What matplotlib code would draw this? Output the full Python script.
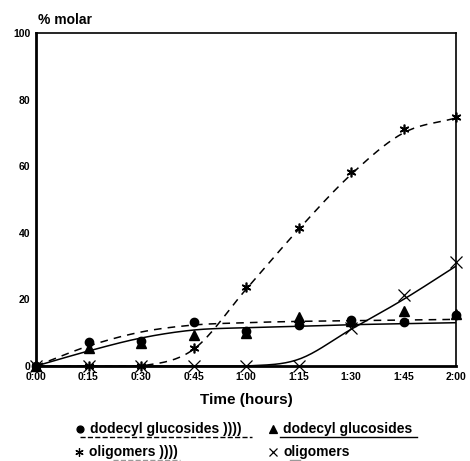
import numpy as np
import matplotlib.pyplot as plt
from matplotlib.lines import Line2D

plt.rcParams['font.family'] = ['Liberation Sans', 'DejaVu Sans']
plt.rcParams['font.weight'] = 'bold'

# time in minutes
t = [0, 15, 30, 45, 60, 75, 90, 105, 120]
tick_labels = ['0:00', '0:15', '0:30', '0:45', '1:00', '1:15', '1:30', '1:45', '2:00']

# measured points
dg_us = [0, 7.3, 7.6, 13.3, 10.6, 12.3, 13.8, 13.2, 15.2]       # dodecyl glucosides ))))
dg = [0, 5.4, 6.9, 9.3, 9.9, 14.8, 13.4, 16.6, 15.6]             # dodecyl glucosides
olig_us = [0, 0, 0, 5.4, 23.7, 41.5, 58.2, 71.2, 74.9]           # oligomers ))))
olig = [0, 0, 0, 0, 0, 0, 11.4, 21.3, 31.3]                      # oligomers

# trend curves
fit_dg_us = [0, 6.0, 10.2, 12.3, 13.0, 13.4, 13.6, 13.8, 14.0]
fit_dg = [0, 4.5, 8.4, 10.8, 11.5, 11.9, 12.4, 12.7, 13.0]
fit_olig_us = [0, 0, 0, 5.0, 23.0, 41.0, 57.5, 70.0, 74.5]
fit_olig = [0, 0, 0, 0, 0, 2.0, 11.0, 20.0, 30.0]


def smooth(x, y, n=20):
    # Catmull-Rom through the read points, just for drawing
    x = np.asarray(x, float)
    y = np.asarray(y, float)
    px = np.concatenate([[2 * x[0] - x[1]], x, [2 * x[-1] - x[-2]]])
    py = np.concatenate([[2 * y[0] - y[1]], y, [2 * y[-1] - y[-2]]])
    xs, ys = [], []
    s = np.linspace(0, 1, n, endpoint=False)
    for i in range(1, len(px) - 2):
        for arr, out in ((px, xs), (py, ys)):
            p0, p1, p2, p3 = arr[i - 1], arr[i], arr[i + 1], arr[i + 2]
            out.extend(0.5 * (2 * p1 + (-p0 + p2) * s + (2 * p0 - 5 * p1 + 4 * p2 - p3) * s ** 2
                              + (-p0 + 3 * p1 - 3 * p2 + p3) * s ** 3))
    xs.append(x[-1])
    ys.append(y[-1])
    return np.array(xs), np.maximum(np.array(ys), 0)


fig = plt.figure(figsize=(4.7, 4.61), dpi=100)
ax = fig.add_axes([36 / 470, 1 - 366 / 461, 420 / 470, 333 / 461])

ax.plot(*smooth(t, fit_dg_us), '--', color='k', lw=1.1, dashes=(5, 4))
ax.plot(*smooth(t, fit_dg), '-', color='k', lw=1.1)
ax.plot(*smooth(t, fit_olig_us), '--', color='k', lw=1.1, dashes=(5, 4))
ax.plot(*smooth(t, fit_olig), '-', color='k', lw=1.1)

ax.plot(t, dg, '^', color='k', ms=7, clip_on=False)
ax.plot(t, dg_us, 'o', color='k', ms=6, clip_on=False)
ax.plot(t, olig_us, marker=(6, 2, 0), ls='none', color='k', ms=7, mew=1.2, clip_on=False)
ax.plot(t, olig, 'x', color='k', ms=8, mew=0.9, clip_on=False)

ax.set_xlim(0, 120)
ax.set_ylim(0, 100)
ax.set_xticks(t)
ax.set_xticklabels(tick_labels)
ax.set_yticks([0, 20, 40, 60, 80, 100])
ax.tick_params(labelsize=7.5, length=0, pad=4)
for lab in ax.get_xticklabels() + ax.get_yticklabels():
    lab.set_fontweight('bold')
ax.spines['left'].set_linewidth(2)
ax.spines['bottom'].set_linewidth(2)
ax.spines['top'].set_linewidth(1.2)
ax.spines['right'].set_linewidth(1.2)

ax.set_xlabel('Time (hours)', fontsize=11, fontweight='bold', labelpad=8)
fig.text(38 / 470, 1 - 20 / 461, '% molar', fontsize=10, fontweight='bold', va='center')

# legend drawn by hand, with the underlines
def fx(px):
    return px / 470


def fy(py):
    return 1 - py / 461


rows = [
    (80, 429, 'o', 5, 'dodecyl glucosides ))))', '--', 80, 252),
    (273, 429, '^', 6, 'dodecyl glucosides', '-', 280, 417),
    (79, 452, (6, 2, 0), 6, 'oligomers ))))', '--', 113, 180),
    (273, 452, 'x', 6, 'oligomers', '-', 290, 300),
]
for mx, my, mk, ms, label, ls, u0, u1 in rows:
    fig.add_artist(Line2D([fx(mx)], [fy(my)], marker=mk, ms=ms, color='k', ls='none',
                          mew=0.9, transform=fig.transFigure))
    fig.text(fx(mx + 10), fy(my), label, fontsize=10, fontweight='bold', va='center')
    uy = fy(my + 8)
    fig.add_artist(Line2D([fx(u0), fx(u1)], [uy, uy], color='k' if my < 440 else '0.6',
                          ls=ls, lw=1.0, transform=fig.transFigure))

fig.savefig('out.png', dpi=100)
